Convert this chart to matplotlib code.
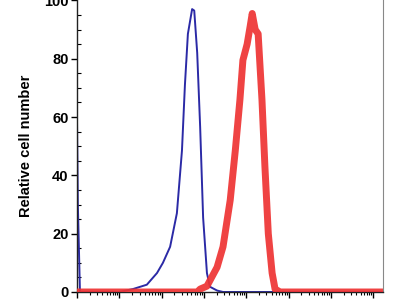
import matplotlib.pyplot as plt
import numpy as np
from matplotlib.ticker import LogLocator, MultipleLocator

# fluorescence intensity as decade exponents (log10), relative cell counts
blue_log = [0.0, 0.02, 0.07, 1.0, 1.32, 1.65, 1.89, 2.03, 2.20, 2.36, 2.48, 2.55,
            2.62, 2.72, 2.77, 2.84, 2.91, 2.98, 3.07, 3.14, 3.31, 3.45, 7.23]
blue_cnt = [59, 30, 0, 0, 1, 2.5, 6.5, 10, 15.5, 27, 48.5, 71,
            88.5, 97, 96.5, 82, 56.5, 25.5, 6.5, 1.8, 0.5, 0, 0]

red_log = [0.0, 2.84, 2.91, 3.07, 3.31, 3.45, 3.62, 3.74, 3.85, 3.92, 4.02, 4.09,
           4.14, 4.21, 4.28, 4.37, 4.44, 4.52, 4.61, 4.68, 4.80, 7.23]
red_cnt = [0, 0, 1, 2, 8.5, 15.5, 31.5, 48.5, 66, 79.5, 85, 91,
           95.5, 90, 88.5, 66, 43, 20, 6.5, 1, 0, 0]

y_ticks = [0, 20, 40, 60, 80, 100]

plt.rcParams.update({'font.family': ['Liberation Sans', 'DejaVu Sans'],
                     'font.size': 10.5, 'font.weight': 'bold'})
fig = plt.figure(figsize=(4, 3), dpi=100)
ax = fig.add_axes([0.1925, 0.0267, 0.765, 0.975])

ax.plot(10 ** np.array(blue_log), blue_cnt, color="#2b2aa6", lw=1.4, zorder=2)
ax.plot(10 ** np.array(red_log), red_cnt, color="#ee3333", lw=5,
        alpha=0.92, zorder=3, solid_joinstyle="round")

ax.set_xscale("log")
ax.set_xlim(1, 10 ** 7.23)
ax.set_ylim(0, 100.3)
ax.xaxis.set_major_locator(LogLocator(base=10, numticks=10))
ax.xaxis.set_minor_locator(LogLocator(base=10, subs=np.arange(2, 10), numticks=20))
ax.set_yticks(y_ticks)
ax.yaxis.set_minor_locator(MultipleLocator(5))

ax.tick_params(axis="y", which="major", direction="out", length=4, width=1, pad=2)
ax.tick_params(axis="y", which="minor", direction="in", length=3, width=0.8)
ax.tick_params(axis="x", which="major", direction="out", length=4, width=1, pad=2)
ax.tick_params(axis="x", which="minor", direction="out", length=2, width=0.8)
ax.tick_params(right=False, top=False, which="both")

ax.set_ylabel("Relative cell number", fontweight="bold", fontsize=10.5, labelpad=8)
ax.spines["top"].set_visible(False)
ax.spines["right"].set_color("#888888")
for s in ["left", "bottom"]:
    ax.spines[s].set_color("#222222")
    ax.spines[s].set_linewidth(1.0)

fig.savefig("out.png", dpi=100)
